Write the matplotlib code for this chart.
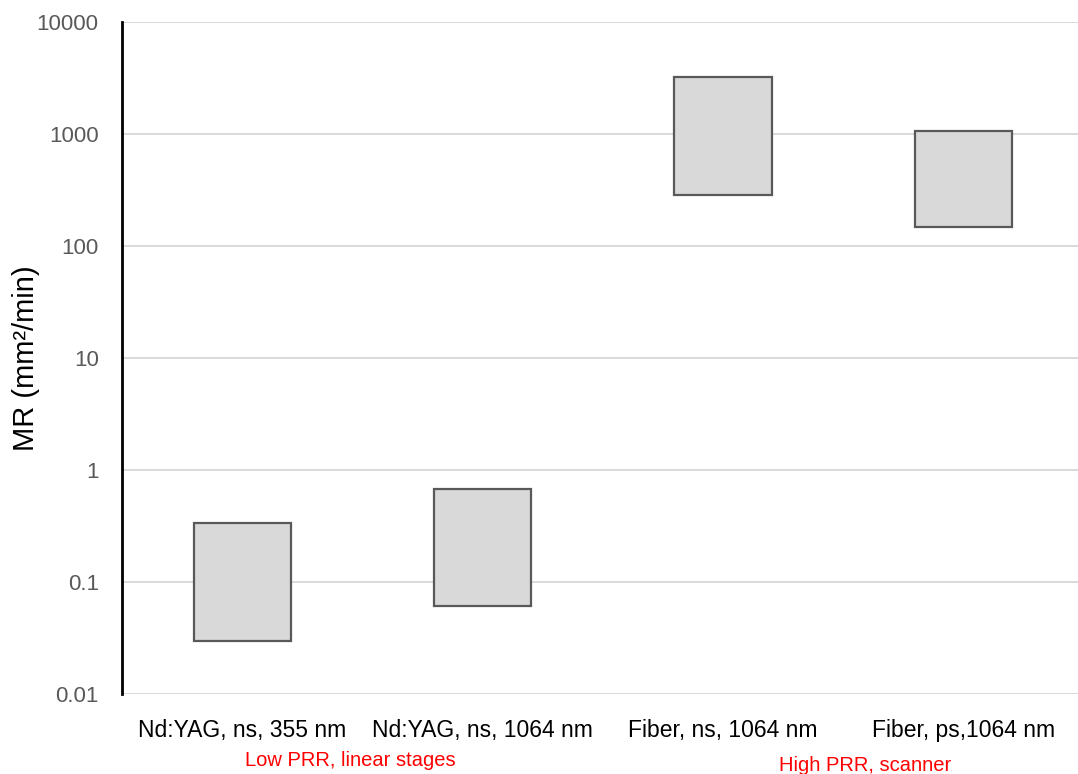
import matplotlib
matplotlib.use("Agg")
import matplotlib.pyplot as plt
from matplotlib.ticker import FixedLocator, FixedFormatter
import matplotlib.transforms as mtransforms

plt.rcParams['font.family'] = ['Liberation Sans', 'DejaVu Sans']

# floating bars: MR range per laser setup (mm²/min)
categories = ["Nd:YAG, ns, 355 nm", "Nd:YAG, ns, 1064 nm",
              "Fiber, ns, 1064 nm", "Fiber, ps,1064 nm"]
mr_low = [0.030, 0.061, 285, 148]
mr_high = [0.336, 0.68, 3200, 1065]
yticks = [0.01, 0.1, 1, 10, 100, 1000, 10000]
ytick_labels = ["0.01", "0.1", "1", "10", "100", "1000", "10000"]
groups = ["Low PRR, linear stages", "High PRR, scanner"]
group_x = [0.45, 2.59]

fig = plt.figure(figsize=(10.78, 7.74), dpi=100)
ax = fig.add_axes([0.1135, 0.1034, 0.8915, 0.8682])

x = range(len(categories))
heights = [h - l for l, h in zip(mr_low, mr_high)]
ax.bar(x, heights, bottom=mr_low, width=0.404, color="#D9D9D9",
       edgecolor="#595959", linewidth=1.6, zorder=3)

ax.set_yscale("log")
ax.set_ylim(0.01, 10000)
ax.set_xlim(-0.5, 3.5)
ax.yaxis.set_major_locator(FixedLocator(yticks))
ax.yaxis.set_major_formatter(FixedFormatter(ytick_labels))
ax.yaxis.set_minor_locator(FixedLocator([]))
ax.grid(axis="y", color="#D9D9D9", linewidth=1.4, zorder=0)

ax.set_xticks(list(x))
ax.set_xticklabels(categories, fontsize=16.5, color="black")
ax.tick_params(axis="x", length=0, pad=18)
ax.tick_params(axis="y", length=0, pad=17, labelsize=16, labelcolor="#595959")

for side in ["top", "right", "bottom"]:
    ax.spines[side].set_visible(False)
ax.spines["left"].set_linewidth(2)
ax.spines["left"].set_color("black")

ax.set_ylabel("MR (mm²/min)", fontsize=21)
ax.yaxis.set_label_coords(-0.086, 0.5)

trans = mtransforms.blended_transform_factory(ax.transData, fig.transFigure)
for gx, gy, label in zip(group_x, [0.017, 0.011], groups):
    ax.text(gx, gy, label, transform=trans, ha="center", va="center",
            fontsize=14.5, color="#FF0000")

fig.savefig("out.png", dpi=100)
